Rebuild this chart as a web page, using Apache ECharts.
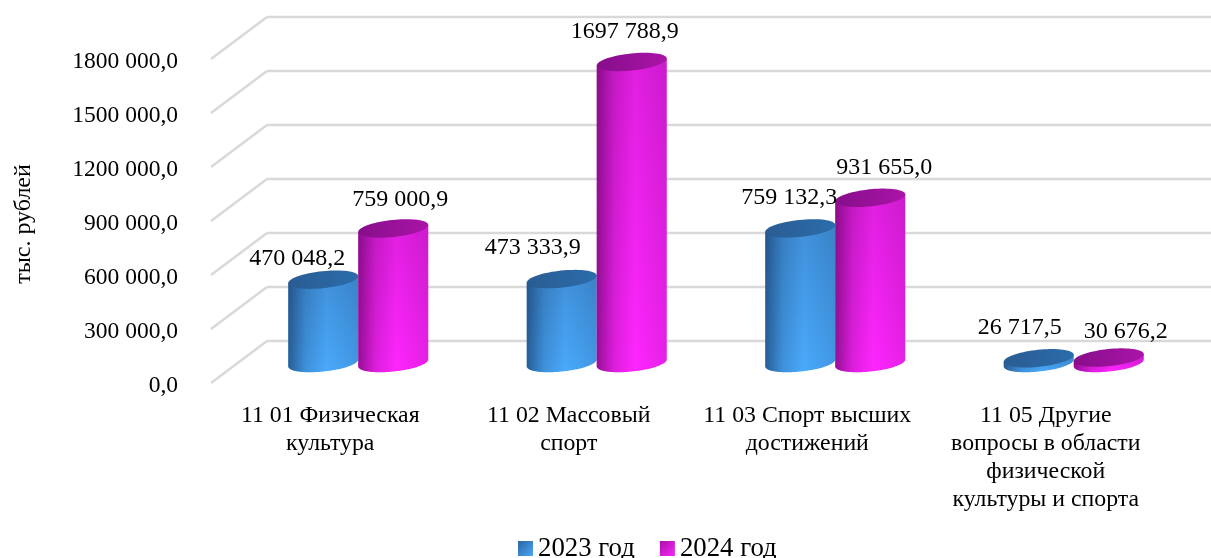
<!DOCTYPE html>
<html><head><meta charset="utf-8">
<script src="https://cdn.jsdelivr.net/npm/echarts@6/dist/echarts.min.js"></script>
<style>html,body{margin:0;padding:0;background:#fff}#c{width:1211px;height:558px}</style>
</head><body><div id="c"></div>
<script>
const categories = ['11 01 Физическая\nкультура', '11 02 Массовый\nспорт', '11 03 Спорт высших\nдостижений', '11 05 Другие\nвопросы в области\nфизической\nкультуры и спорта'];
const seriesNames = ['2023 год', '2024 год'];
const values2023 = [470048.2, 473333.9, 759132.3, 26717.5];
const values2024 = [759000.9, 1697788.9, 931655.0, 30676.2];
const yTicks = [0, 300000, 600000, 900000, 1200000, 1500000, 1800000];
const axisName = 'тыс. рублей';

const FONT = '"Liberation Serif","Times New Roman",serif';
const labelOffsets = [
  [[-26, -21], [-29, -31], [-11, -31], [-19, -31]],
  [[7, -29], [-7, -30], [14, -30], [17, -26]]
];
const DEPTH_X = 56, DEPTH_Y = 42, TILT = -6 * Math.PI / 180, RY = 8.5, H_SCALE = 0.985, BASE_SHIFT = 1, Y_NUDGE = 3;

function fmt(v) {
  const s = v.toFixed(1).split('.');
  const i = s[0];
  const head = i.length > 3 ? i.slice(0, -3) + ' ' + i.slice(-3) : i;
  return head + ',' + s[1];
}
function lg(x2, y2, stops) {
  return new echarts.graphic.LinearGradient(0, 0, x2, y2, stops.map((c, i) => ({ offset: c[0], color: c[1] })));
}
const palettes = [
  { top: '#4090da', bottom: '#4aaafc', shade: '16,45,85', cap: ['#2a5c92', '#2b6cab'], legend: ['#2c659f', '#4aa8f8'] },
  { top: '#e01fe0', bottom: '#ff26ff', shade: '80,0,80', cap: ['#860e8a', '#aa14a8'], legend: ['#a812a8', '#f826f8'] }
];

function ellipsePoints(cx, cy, rx, ry, t0, t1, n) {
  const pts = [];
  for (let i = 0; i <= n; i++) {
    const t = t0 + (t1 - t0) * i / n;
    pts.push([
      cx + rx * Math.cos(t) * Math.cos(TILT) - ry * Math.sin(t) * Math.sin(TILT),
      cy + rx * Math.cos(t) * Math.sin(TILT) + ry * Math.sin(t) * Math.cos(TILT)
    ]);
  }
  return pts;
}

function cylinder(seriesIndex) {
  const pal = palettes[seriesIndex];
  return function (params, api) {
    const cat = api.value(0), val = api.value(1);
    const p0 = api.coord([cat, 0]), pv = api.coord([cat, val]);
    const band = api.size([1, 0])[0];
    const W = band * 0.2935 / 2;
    const cx = p0[0] + DEPTH_X / 2 + (seriesIndex === 0 ? -W : W);
    const by = p0[1] - Y_NUDGE - DEPTH_Y / 2 + BASE_SHIFT;
    const ty = by - (p0[1] - pv[1]) * H_SCALE;
    const rx = Math.sqrt(Math.max(W * W - RY * RY * Math.sin(TILT) ** 2, 1)) / Math.cos(TILT);
    const t0 = Math.atan2(-RY * Math.sin(TILT), rx * Math.cos(TILT));
    const lower = ellipsePoints(cx, by, rx, RY, t0 + Math.PI, t0, 48);
    const upper = ellipsePoints(cx, ty, rx, RY, t0, t0 + Math.PI, 48);
    const bodyPts = lower.concat(upper.slice(0, 1), upper.slice(-1));
    const capPts = ellipsePoints(cx, ty, rx, RY, 0, Math.PI * 2, 72);
    const off = labelOffsets[seriesIndex][params.dataIndex];
    return {
      type: 'group',
      children: [
        { type: 'polygon', shape: { points: bodyPts }, z2: seriesIndex,
          style: { fill: lg(0, 1, [[0, pal.top], [1, pal.bottom]]) } },
        { type: 'polygon', shape: { points: bodyPts }, z2: seriesIndex,
          style: { fill: lg(1, 0, [[0, 'rgba(' + pal.shade + ',0.6)'], [0.25, 'rgba(' + pal.shade + ',0.2)'], [0.55, 'rgba(' + pal.shade + ',0)'], [1, 'rgba(' + pal.shade + ',0.14)']]) } },
        { type: 'polygon', shape: { points: capPts }, z2: seriesIndex,
          style: { fill: lg(1, 0, [[0, pal.cap[0]], [1, pal.cap[1]]]) } },
        { type: 'text', z2: 100,
          style: { text: fmt(val), x: cx + off[0], y: ty + off[1], align: 'center', verticalAlign: 'middle',
                   fill: '#000', font: '24px ' + FONT } }
      ]
    };
  };
}

function gridWall(params, api) {
  const v = api.value(0);
  const p = api.coord([0, v]);
  const y = p[1] - Y_NUDGE;
  const x0 = api.coord([0, 0])[0] - api.size([1, 0])[0] / 2;
  const line = { stroke: '#d9d9d9', lineWidth: 2.5 };
  return {
    type: 'group',
    children: [
      { type: 'line', shape: { x1: x0 + DEPTH_X, y1: y - DEPTH_Y, x2: api.getWidth(), y2: y - DEPTH_Y }, style: line },
      { type: 'line', shape: { x1: x0, y1: y, x2: x0 + DEPTH_X, y2: y - DEPTH_Y }, style: line }
    ]
  };
}

const chart = echarts.init(document.getElementById('c'), null, { renderer: 'canvas' });
chart.setOption({
  animation: false,
  backgroundColor: '#fff',
  textStyle: { fontFamily: FONT, color: '#000' },
  grid: { left: 211, width: 954, top: 62, height: 324, outerBoundsMode: 'none' },
  legend: {
    data: seriesNames, left: 518, top: 535, padding: 0, itemWidth: 15, itemHeight: 15, itemGap: 25,
    icon: 'rect', selectedMode: false,
    textStyle: { fontFamily: FONT, fontSize: 26.8, color: '#000', padding: [2, 0, 0, 0] }
  },
  xAxis: {
    type: 'category', data: categories,
    axisLine: { show: false }, axisTick: { show: false }, splitLine: { show: false },
    axisLabel: { interval: 0, margin: 16, fontFamily: FONT, fontSize: 23.8, lineHeight: 28, color: '#000', align: 'center', verticalAlign: 'top' }
  },
  yAxis: {
    type: 'value', min: 0, max: 1800000, interval: 300000,
    name: axisName, nameLocation: 'middle', nameRotate: 90, nameGap: 175,
    nameTextStyle: { fontFamily: FONT, fontSize: 24, color: '#000' },
    axisLine: { show: false }, axisTick: { show: false }, splitLine: { show: false },
    axisLabel: { margin: 33, fontFamily: FONT, fontSize: 23.5, color: '#000', formatter: v => fmt(v) }
  },
  series: [
    { type: 'custom', name: 'wall', silent: true, data: yTicks.map(v => [v]), encode: { y: 0 }, renderItem: gridWall },
    { type: 'custom', name: seriesNames[0], silent: true, data: values2023.map((v, i) => [i, v]), encode: { x: 0, y: 1 },
      itemStyle: { color: lg(1, 1, [[0, palettes[0].legend[0]], [1, palettes[0].legend[1]]]) }, renderItem: cylinder(0) },
    { type: 'custom', name: seriesNames[1], silent: true, data: values2024.map((v, i) => [i, v]), encode: { x: 0, y: 1 },
      itemStyle: { color: lg(1, 1, [[0, palettes[1].legend[0]], [1, palettes[1].legend[1]]]) }, renderItem: cylinder(1) }
  ]
});
</script>
</body></html>
